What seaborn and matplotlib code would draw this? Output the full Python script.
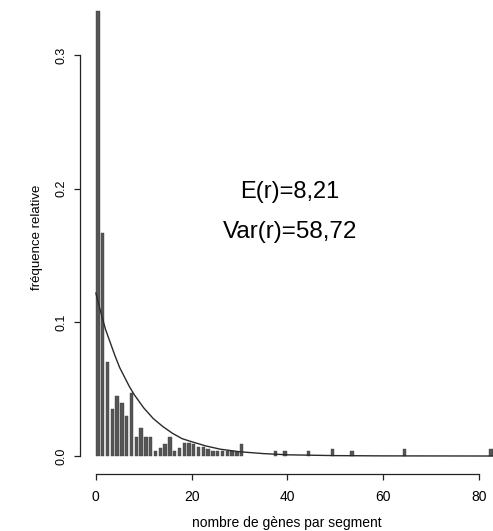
import matplotlib
matplotlib.use("Agg")
import matplotlib.pyplot as plt
import seaborn as sns
import pandas as pd

# number of genes per segment and relative frequency (bars)
genes = [0, 1, 2, 3, 4, 5, 6, 7, 8, 9, 10, 11, 12, 13, 14, 15, 16, 17, 18, 19,
         20, 21, 22, 23, 24, 25, 26, 27, 28, 29, 30, 37, 39, 44, 49, 53, 64, 82]
freq = [0.333, 0.167, 0.070, 0.035, 0.045, 0.040, 0.030, 0.047, 0.014, 0.021,
        0.014, 0.014, 0.004, 0.006, 0.009, 0.014, 0.004, 0.006, 0.010, 0.010,
        0.009, 0.007, 0.007, 0.005, 0.004, 0.004, 0.004, 0.004, 0.004, 0.003,
        0.009, 0.004, 0.004, 0.004, 0.005, 0.004, 0.005, 0.005]

# fitted curve
curve_x = [0, 1, 2, 3, 4, 5, 6, 7, 8, 10, 12, 14, 16, 18, 20, 23, 26, 30, 35,
           40, 50, 60, 83]
curve_y = [0.122, 0.108, 0.095, 0.085, 0.075, 0.066, 0.059, 0.052, 0.046,
           0.036, 0.028, 0.022, 0.017, 0.013, 0.0107, 0.0075, 0.0051, 0.0032,
           0.0018, 0.0009, 0.0003, 0.0001, 0.0]

xticks = [0, 20, 40, 60, 80]
xtick_labels = ["0", "20", "40", "60", "80"]
yticks = [0.0, 0.1, 0.2, 0.3]
ytick_labels = ["0.0", "0.1", "0.2", "0.3"]

sns.set_style("ticks")
plt.rcParams["font.family"] = ["Liberation Sans", "DejaVu Sans"]
plt.rcParams["text.color"] = "black"
plt.rcParams["axes.labelcolor"] = "black"
plt.rcParams["xtick.color"] = "black"
plt.rcParams["ytick.color"] = "black"

fig = plt.figure(figsize=(4.93, 5.31), dpi=100)
W, H = 493, 531
ax_left, ax_right = 80, 493
ax_top, ax_bottom = 0, 473.8
ax = fig.add_axes([ax_left / W, 1 - ax_bottom / H,
                   (ax_right - ax_left) / W, (ax_bottom - ax_top) / H])

bars = pd.DataFrame({"x": [g + 0.45 for g in genes], "y": freq})
sns.barplot(data=bars, x="x", y="y", native_scale=True, width=0.7,
            color="#555555", saturation=1, errorbar=None, ax=ax,
            edgecolor="#404040", linewidth=0.3)

curve = pd.DataFrame({"x": curve_x, "y": curve_y})
sns.lineplot(data=curve, x="x", y="y", color="#2a2a2a", linewidth=1.0, ax=ax)

ax.set_xlim(-3.3, 82.9)
ax.set_ylim(-0.0133, 0.3411)

ax.set_xticks(xticks)
ax.set_xticklabels(xtick_labels, fontsize=10)
ax.set_yticks(yticks)
ax.set_yticklabels(ytick_labels, fontsize=9, rotation=90, va="center")

for s in ["top", "right"]:
    ax.spines[s].set_visible(False)
ax.spines["left"].set_bounds(0, 0.3)
ax.spines["bottom"].set_bounds(0, 80)
for s in ["left", "bottom"]:
    ax.spines[s].set_color("#222222")
    ax.spines[s].set_linewidth(0.9)
ax.tick_params(axis="x", direction="out", length=4.5, width=0.9, pad=7,
               color="#222222")
ax.tick_params(axis="y", direction="out", length=4, width=0.9, pad=5,
               color="#222222")

ax.set_xlabel("nombre de gènes par segment", fontsize=10, labelpad=9)
ax.set_ylabel("fréquence relative", fontsize=9.5, labelpad=9)

ax.text(40.5, 0.1975, "E(r)=8,21", fontsize=17, ha="center", va="center")
ax.text(40.5, 0.1676, "Var(r)=58,72", fontsize=17.5, ha="center", va="center")

fig.savefig("out.png", dpi=100)
